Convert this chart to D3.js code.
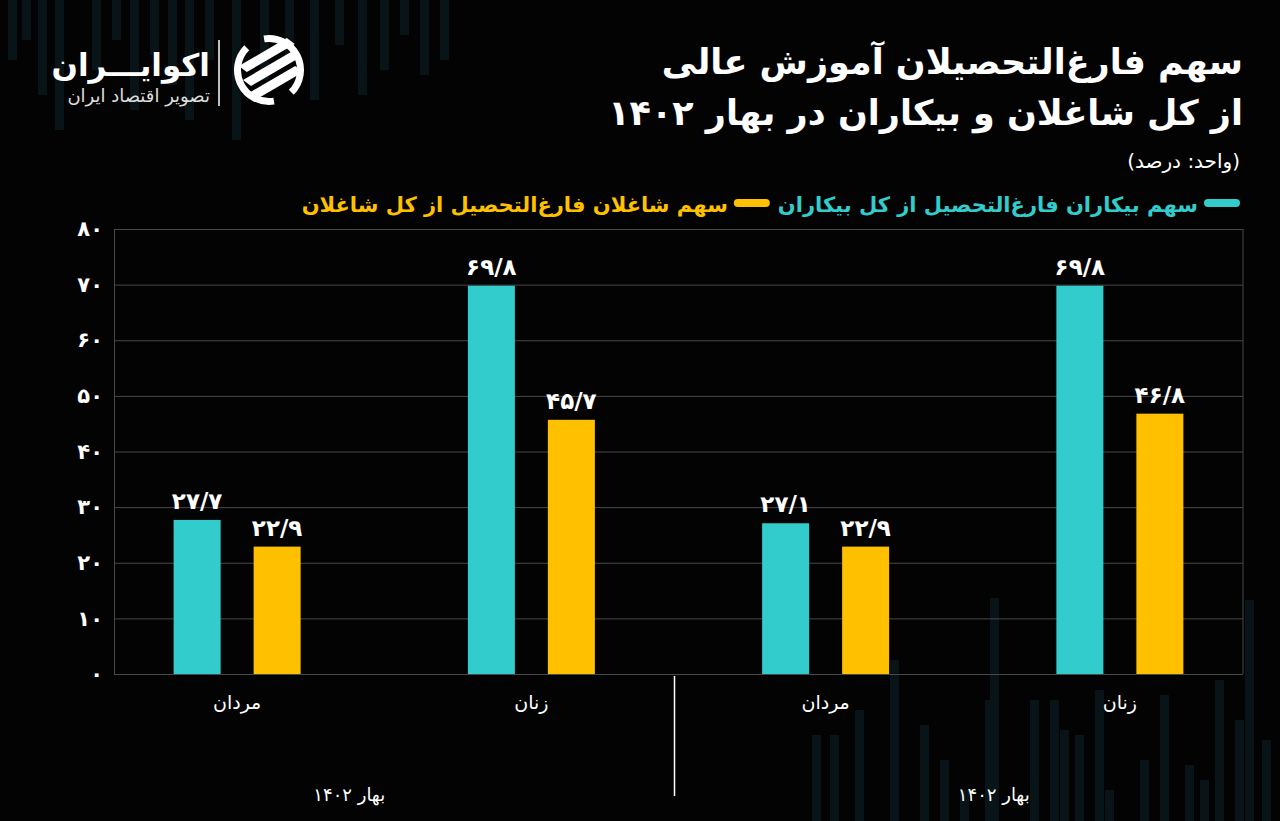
<!DOCTYPE html>
<html><head><meta charset="utf-8">
<script src="https://cdn.jsdelivr.net/npm/d3@7"></script>
<style>
html,body{margin:0;padding:0;background:#030303;}
svg{display:block;}
text{font-family:"DejaVu Sans","Noto Sans",sans-serif;}
</style></head>
<body>
<script>
// ---- data ----
const categories = ["مردان", "زنان", "مردان", "زنان"];
const periods = ["بهار ۱۴۰۲", "بهار ۱۴۰۲"];
const periodOfCategory = [0, 0, 1, 1];
const seriesNames = ["سهم بیکاران فارغ‌التحصیل از کل بیکاران", "سهم شاغلان فارغ‌التحصیل از کل شاغلان"];
const unemployedShare = [27.7, 69.8, 27.1, 69.8];
const employedShare = [22.9, 45.7, 22.9, 46.8];
const yTicks = [0, 10, 20, 30, 40, 50, 60, 70, 80];
const titleLines = ["سهم فارغ‌التحصیلان آموزش عالی", "از کل شاغلان و بیکاران در بهار ۱۴۰۲"];
const unitText = "(واحد: درصد)";
const colors = ["#33CCCC", "#FFC000"];

const W = 1280, H = 821;
const fa = s => String(s).replace(/\./g, "/").replace(/[0-9]/g, d => "۰۱۲۳۴۵۶۷۸۹"[d]);

const svg = d3.select("body").append("svg").attr("width", W).attr("height", H);
svg.append("rect").attr("width", W).attr("height", H).attr("fill", "#030303");

// decorative faint background bars
const deco = svg.append("g").attr("fill", "#0a1a1f").attr("opacity", 0.75);
const decoTop = [[8,60],[22,40],[38,95],[55,130],[92,70],[112,40],[130,110],[150,55],[168,85],[185,120],[205,60],[232,140],[260,80],[285,55],[310,100],[335,45],[358,95],[380,70],[400,35],[420,75],[440,60]];
decoTop.forEach(([x,h]) => deco.append("rect").attr("x", x).attr("y", 0).attr("width", 9).attr("height", h));
const decoBot = [[812,735],[830,735],[855,710],[890,660],[920,725],[940,760],[960,790],[985,700],[990,598],[1030,700],[1050,700],[1060,730],[1075,735],[1095,690],[1105,790],[1140,760],[1160,695],[1185,765],[1200,780],[1215,680],[1235,720],[1245,600],[1262,740]];
decoBot.forEach(([x,y]) => deco.append("rect").attr("x", x).attr("y", y).attr("width", 9).attr("height", H - y));

// ---- title ----
const tg = svg.append("g").attr("direction", "rtl");
tg.selectAll("text.title").data(titleLines).join("text")
  .attr("x", 1243).attr("y", (d, i) => 74 + i * 51)
  .attr("text-anchor", "start").attr("fill", "#fff")
  .attr("font-size", 35).attr("font-weight", "bold").text(d => d);
tg.append("text").attr("x", 1240).attr("y", 168).attr("text-anchor", "start")
  .attr("fill", "#fff").attr("font-size", 20).text(unitText);

// ---- legend ----
const lg = svg.append("g");
let lx = 1240;
seriesNames.forEach((name, i) => {
  lg.append("rect").attr("x", lx - 36).attr("y", 199).attr("width", 36).attr("height", 8).attr("rx", 4).attr("fill", colors[i]);
  const t = lg.append("text").attr("direction", "rtl").attr("x", lx - 42).attr("y", 212)
    .attr("text-anchor", "start").attr("fill", colors[i]).attr("font-size", 21).attr("font-weight", "bold").text(name);
  const w = t.node().getComputedTextLength();
  lx = lx - 42 - w - 8;
});

// ---- logo ----
const logo = svg.append("g");
logo.append("text").attr("direction", "rtl").attr("x", 210).attr("y", 76).attr("text-anchor", "start")
  .attr("fill", "#fff").attr("font-size", 31).attr("font-weight", "bold").text("اکوایـــران");
logo.append("text").attr("direction", "rtl").attr("x", 210).attr("y", 102).attr("text-anchor", "start")
  .attr("fill", "#ddd").attr("font-size", 18).text("تصویر اقتصاد ایران");
logo.append("line").attr("x1", 219).attr("x2", 219).attr("y1", 40).attr("y2", 106).attr("stroke", "#fff").attr("stroke-width", 1.5);
const icon = logo.append("g").attr("transform", "translate(269,70)");
icon.append("path").attr("d", d3.arc()({innerRadius: 28, outerRadius: 35, startAngle: Math.PI * 0.95, endAngle: Math.PI * 1.75})).attr("fill", "#fff");
icon.append("path").attr("d", d3.arc()({innerRadius: 28, outerRadius: 35, startAngle: -0.05 * Math.PI, endAngle: 0.75 * Math.PI})).attr("fill", "#fff");
[-14, 0, 14].forEach(o => icon.append("path")
  .attr("d", `M${-26 + o * 0.3},${o + 10} L${22 + o * 0.3},${o - 18} L${30 + o * 0.3},${o - 12} L${-18 + o * 0.3},${o + 16} Z`)
  .attr("fill", "#fff"));

// ---- chart ----
const plotL = 114, plotR = 1243, plotT = 229, plotB = 674;
const y = d3.scaleLinear().domain([0, 80]).range([plotB, plotT]);
const x0 = d3.scaleBand().domain(d3.range(categories.length)).range([90, 1267]);
const x1 = d3.scaleBand().domain([0, 1]).range([-63.5, 63.5]).paddingInner(0.4125).paddingOuter(0);

const grid = svg.append("g").attr("transform", `translate(${plotL},0)`)
  .call(d3.axisLeft(y).tickValues(yTicks).tickSize(-(plotR - plotL)).tickFormat(""));
grid.selectAll("line").attr("stroke", "#484848").attr("stroke-width", 1);
grid.select(".domain").remove();

const yAxis = svg.append("g").attr("transform", `translate(${plotL},0)`)
  .call(d3.axisLeft(y).tickValues(yTicks).tickSize(0).tickPadding(11).tickFormat(fa));
yAxis.select(".domain").attr("stroke", "#484848");
yAxis.selectAll("text").attr("fill", "#fff").attr("font-size", 21).attr("font-weight", "bold")
  .attr("font-family", "DejaVu Sans");
svg.append("line").attr("x1", plotR).attr("x2", plotR).attr("y1", plotT).attr("y2", plotB).attr("stroke", "#484848");

const seriesVals = [unemployedShare, employedShare];
const bars = svg.append("g");
categories.forEach((c, ci) => {
  const cx = x0(ci) + x0.bandwidth() / 2;
  seriesVals.forEach((vals, si) => {
    const v = vals[ci];
    bars.append("rect").attr("x", cx + x1(si)).attr("width", x1.bandwidth())
      .attr("y", y(v)).attr("height", y(0) - y(v)).attr("fill", colors[si]);
    bars.append("text").attr("x", cx + x1(si) + x1.bandwidth() / 2).attr("y", y(v) - 11)
      .attr("text-anchor", "middle").attr("fill", "#fff").attr("font-size", 23).attr("font-weight", "bold")
      .text(fa(v));
  });
  svg.append("text").attr("direction", "rtl").attr("x", cx).attr("y", 709).attr("text-anchor", "middle")
    .attr("fill", "#fff").attr("font-size", 19).text(c);
});

// period separators and labels
const periodIdx = d3.range(periods.length);
periodIdx.slice(1).forEach(p => {
  const first = periodOfCategory.indexOf(p);
  const sx = x0(first) - 4;
  svg.append("line").attr("x1", sx).attr("x2", sx).attr("y1", plotB + 2).attr("y2", 796).attr("stroke", "#fff").attr("stroke-width", 1.5);
});
const periodOffsets = [-35, 21];
periodIdx.forEach(p => {
  const idx = categories.map((_, i) => i).filter(i => periodOfCategory[i] === p);
  const mid = (x0(idx[0]) + x0(idx[idx.length - 1]) + x0.bandwidth()) / 2;
  svg.append("text").attr("direction", "rtl").attr("x", mid + periodOffsets[p]).attr("y", 801).attr("text-anchor", "middle")
    .attr("fill", "#fff").attr("font-size", 18).text(periods[p]);
});
</script>
</body></html>
